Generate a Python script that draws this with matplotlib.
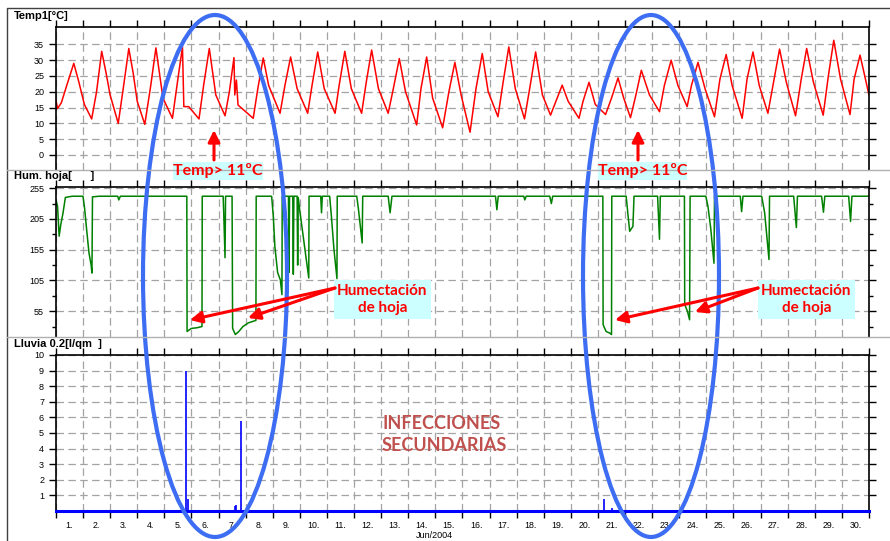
import matplotlib.pyplot as plt
from matplotlib.patches import Ellipse, Rectangle

# ---- datos (dia del mes, valor) ----
temp_dia = [1.00, 1.06, 1.20, 1.40, 1.66, 1.85, 2.05, 2.32, 2.50, 2.69, 2.85, 3.00, 3.30, 3.50, 3.69,
            3.85, 4.00, 4.28, 4.50, 4.69, 4.85, 4.95, 5.30, 5.50, 5.67, 5.72, 5.90, 6.28, 6.45, 6.66,
            6.90, 7.24, 7.40, 7.57, 7.60, 7.66, 7.72, 8.28, 8.45, 8.65, 8.85, 9.27, 9.45, 9.66, 9.90,
            10.29, 10.45, 10.66, 10.90, 11.30, 11.45, 11.66, 11.90, 12.28, 12.45, 12.65, 12.90, 13.26,
            13.45, 13.67, 13.90, 14.31, 14.47, 14.68, 14.90, 15.27, 15.50, 15.72, 15.95, 16.28, 16.50,
            16.73, 16.95, 17.31, 17.50, 17.71, 17.95, 18.29, 18.50, 18.70, 18.95, 19.25, 19.45, 19.68,
            19.90, 20.30, 20.45, 20.67, 20.90, 21.28, 21.50, 21.74, 21.95, 22.20, 22.40, 22.60, 22.90,
            23.27, 23.45, 23.70, 23.95, 24.29, 24.45, 24.69, 24.95, 25.30, 25.50, 25.73, 25.95, 26.32,
            26.50, 26.72, 26.95, 27.27, 27.50, 27.70, 27.95, 28.29, 28.50, 28.70, 28.95, 29.31, 29.50,
            29.70, 29.95, 30.30, 30.45, 30.67, 31.00]
temp_val = [17.4, 14.7, 16.5, 22, 29.0, 23, 16, 11.4, 20, 32.8, 26, 19, 10.0, 22, 33.7,
            26, 17, 9.7, 22, 33.9, 24, 18, 11.6, 24, 34.2, 15.3, 15.3, 11.4, 22, 33.7,
            19, 12.4, 20, 30.8, 19, 23.7, 15.8, 11.6, 21, 30.7, 22, 13.2, 22, 31, 21,
            13.2, 22, 32.6, 21, 13.2, 22, 32.8, 21, 13.2, 23, 33.2, 21, 13.2,
            21, 30.5, 20, 9.5, 21, 31, 18, 8.6, 20, 29.3, 19, 7.2, 21,
            32.1, 20, 12.1, 23, 34.2, 21, 11.4, 22, 32.6, 19, 12.6, 17, 22.1,
            17, 11.6, 17, 23.0, 16, 12.8, 18, 24.4, 18, 11.8, 19, 26.8, 19,
            13.7, 22, 30.0, 22, 15.3, 22, 29.3, 21, 12.1, 24, 31.8, 22, 11.6,
            24, 32.6, 22, 13.2, 24, 33.5, 23, 12.4, 24, 33.7, 23, 12.6, 25,
            36.3, 24, 12.8, 24, 31.6, 19.0]

hum_dia = [1.00, 1.06, 1.12, 1.18, 1.26, 1.35, 1.60, 2.00, 2.06, 2.14, 2.22, 2.30, 2.33, 2.35, 2.60,
           3.28, 3.32, 3.38, 5.83, 5.84, 6.00, 6.20, 6.39, 6.40, 7.17, 7.19, 7.24, 7.26, 7.50, 7.52,
           7.62, 7.75, 7.90, 8.10, 8.38, 8.39, 8.96, 9.02, 9.08, 9.18, 9.28, 9.34, 9.35, 9.58, 9.60,
           9.62, 9.74, 9.76, 9.78, 9.90, 9.92, 9.94, 10.00, 10.10, 10.22, 10.33, 10.34, 10.77, 10.80,
           10.83, 11.10, 11.16, 11.26, 11.37, 11.38, 12.10, 12.16, 12.24, 12.30, 12.32, 13.26, 13.33,
           13.40, 17.22, 17.27, 17.32, 18.26, 18.30, 18.35, 19.22, 19.28, 19.33, 21.18, 21.19, 21.30,
           21.45, 21.50, 21.51, 22.04, 22.10, 22.17, 22.29, 22.33, 23.20, 23.27, 23.30, 24.19, 24.20,
           24.30, 24.38, 24.40, 24.98, 25.06, 25.16, 25.28, 25.30, 26.25, 26.30, 26.35, 27.04, 27.15,
           27.31, 27.33, 28.22, 28.32, 28.36, 29.25, 29.32, 29.37, 30.25, 30.32, 30.37, 31.00]
hum_val = [236, 226, 177, 196, 214, 240, 242, 242, 222, 185, 150, 130, 117, 241, 242,
           242, 236, 242, 242, 22, 27, 28, 30, 242, 242, 218, 142, 242, 242, 27,
           17, 22, 30, 36, 40, 242, 242, 210, 160, 118, 106, 82, 242, 242, 118,
           242, 242, 115, 242, 242, 130, 240, 218, 185, 145, 109, 242, 242, 215,
           242, 242, 212, 155, 108, 242, 242, 222, 190, 166, 242, 242, 215,
           242, 242, 220, 242, 242, 236, 242, 242, 230, 242, 242, 33, 22,
           19, 17, 242, 242, 215, 185, 193, 242, 242, 172, 242, 242, 66,
           55, 41, 242, 242, 225, 190, 133, 242, 242, 217, 242, 242, 215,
           139, 242, 242, 191, 242, 242, 216, 242, 242, 201, 242, 242]

lluvia_dia = [5.79, 5.89, 7.60, 7.65, 7.82, 21.24, 21.52]
lluvia_val = [9.0, 0.8, 0.3, 0.4, 5.8, 0.8, 0.2]

dias = list(range(1, 31))
etiquetas_dias = ['%d.' % d for d in dias]

W, H = 890, 541
fig = plt.figure(figsize=(W / 100, H / 100), dpi=100)
plt.rcParams['font.family'] = ['Liberation Sans', 'DejaVu Sans']


def pos(top, bottom, left=55.9, right=869):
    return [left / W, 1 - bottom / H, (right - left) / W, (bottom - top) / H]


def estilo(ax, yticks, ylim, minor=None):
    ax.set_xlim(1, 31)
    ax.set_ylim(*ylim)
    ax.set_xticks(range(1, 32))
    ax.set_yticks(yticks)
    if minor:
        ax.set_yticks(minor, minor=True)
    ax.grid(True, which='major', color='#a3a3a3', lw=0.9, linestyle=(0, (6, 3.5)))
    ax.tick_params(axis='both', which='major', direction='out', length=5, width=1,
                   top=True, right=True, labelsize=6.5, pad=3.5, color='black')
    ax.tick_params(axis='y', which='minor', direction='out', length=3, width=1, right=True)
    for s in ax.spines.values():
        s.set_linewidth(1.2)


# ---- Temp1 ----
ax1 = fig.add_axes(pos(27, 169.5))
ax1.plot(temp_dia, temp_val, color='#ff0000', lw=1.1)
estilo(ax1, range(0, 36, 5), (-4.6, 40.5))
ax1.tick_params(axis='x', bottom=False, labelbottom=False)
ax1.spines['bottom'].set_visible(False)

# ---- Hum. hoja ----
ax2 = fig.add_axes(pos(187, 337))
ax2.plot(hum_dia, hum_val, color='#008000', lw=1.1)
estilo(ax2, range(55, 256, 50), (13, 257), minor=range(30, 256, 50))
ax2.tick_params(axis='x', bottom=False, labelbottom=False)
ax2.spines['bottom'].set_visible(False)

# ---- Lluvia ----
ax3 = fig.add_axes(pos(355, 511))
ax3.vlines(lluvia_dia, 0, lluvia_val, color='#0000ff', lw=1.2)
ax3.axhline(0, color='#0000ff', lw=2.2, zorder=5, clip_on=False)
estilo(ax3, range(1, 11), (0, 10))
ax3.tick_params(axis='x', which='major', labelbottom=False)
ax3.set_xticks([d + 0.5 for d in dias], minor=True)
ax3.set_xticklabels(etiquetas_dias, minor=True)
ax3.tick_params(axis='x', which='minor', length=0, labelsize=6.3, pad=7.5)

# ---- capa de anotaciones en pixeles ----
ov = fig.add_axes([0, 0, 1, 1])
ov.set_xlim(0, W)
ov.set_ylim(H, 0)
ov.axis('off')

# marco y separadores
ov.plot([7, 7, W], [H, 8, 8], color='#404040', lw=1)
ov.plot([7, W], [169.5, 169.5], color='#b0b0b0', lw=1)
ov.plot([7, W], [337, 337], color='#b0b0b0', lw=1)

tit = dict(fontsize=8, fontweight='bold', va='center', ha='left')
ov.text(14, 16, 'Temp1[°C]', **tit)
ov.text(14, 176, 'Hum. hoja[      ]', **tit)
ov.text(14, 344, 'Lluvia 0.2[l/qm  ]', **tit)
ov.text(434, 535, 'Jun/2004', fontsize=6.5, ha='center', va='center')

azul = '#3d6df2'
ov.add_patch(Ellipse((215, 276), 144, 522, fill=False, ec=azul, lw=3))
ov.add_patch(Ellipse((651, 276), 136, 522, fill=False, ec=azul, lw=3))

rojo = '#ff0000'
cian = '#ccffff'
caja = dict(fontfamily='Lato', fontweight='bold', color=rojo, ha='center', va='center')
for x0, x1 in [(173, 263), (598, 687)]:
    ov.add_patch(Rectangle((x0, 162), x1 - x0, 18, fc=cian, ec='none'))
    ov.text((x0 + x1) / 2, 171, 'Temp> 11ºC', fontsize=11.5, **caja)
for x0 in [334, 758]:
    ov.add_patch(Rectangle((x0, 280), 97, 39, fc=cian, ec='none'))
    ov.text(x0 + 48.5, 299.5, 'Humectación\nde hoja', fontsize=11, linespacing=1.25, **caja)

flecha = dict(arrowstyle='-|>,head_length=0.7,head_width=0.35', color=rojo, lw=2.2,
              shrinkA=0, shrinkB=0)
for x in [214, 638]:
    ov.annotate('', xy=(x, 130), xytext=(x, 160), arrowprops=flecha)
for tail, tip in [((335, 288), (190, 320)), ((335, 288), (248, 318)),
                  ((758, 288), (615, 320)), ((758, 288), (695, 312))]:
    ov.annotate('', xy=tip, xytext=tail, arrowprops=flecha)

ov.text(382, 434.5, 'INFECCIONES\nSECUNDARIAS', fontfamily='Lato', fontweight='bold',
        fontsize=13, color='#c0504d', ha='left', va='center', linespacing=1.35)

fig.savefig('out.png', dpi=100)
